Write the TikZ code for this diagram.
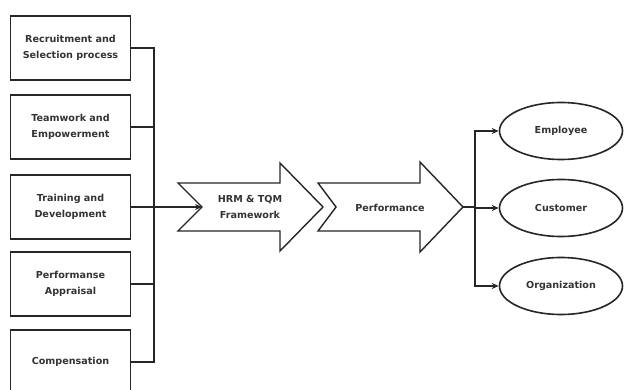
\documentclass[tikz,border=0pt]{standalone}
\usepackage{fontspec}
\setmainfont{DejaVu Sans}
\usetikzlibrary{shapes.geometric,arrows.meta}
\begin{document}
\begin{tikzpicture}[x=1pt,y=-1pt,
  txt/.style={font=\fontsize{9.6}{16.5}\selectfont\bfseries,text=black!80,align=center},
  factor/.style={txt,draw=black!85,line width=1.9pt,minimum width=120pt,minimum height=64pt,inner sep=0pt},
  bigarrow/.style={draw=black!85,line width=1.4pt,fill=white,line join=miter},
  outcome/.style={txt,ellipse,draw=black!85,line width=1.6pt,minimum width=123pt,minimum height=57pt,inner sep=0pt},
  link/.style={draw=black!85,line width=1.6pt},
  tipped/.style={link,-{Stealth[length=7pt,width=6pt]}}]
\useasboundingbox (0,0) rectangle (625,390);
% factor boxes
\node[factor] (b1) at (70.5,48)  {Recruitment and\\Selection process};
\node[factor] (b2) at (70.5,127) {Teamwork and\\Empowerment};
\node[factor] (b3) at (70.5,207) {Training and\\Development};
\node[factor] (b4) at (70.5,284) {Performanse\\Appraisal};
\node[factor] (b5) at (70.5,362) {Compensation};
% bus on the left
\coordinate (bx) at (154,0);
\draw[link] (b1.east) -| (bx |- b5) -- (b5.east);
\draw[link] (b2.east) -- (b2 -| bx);
\draw[link] (b4.east) -- (b4 -| bx);
% block arrows
\draw[bigarrow] (178,183) -- (280,183) -- (280,163) -- (323,207) -- (280,251) -- (280,231) -- (178,231) -- (202,207) -- cycle;
\coordinate (n1) at (202,207);
\node[txt] (hrm) at (250,207) {HRM \& TQM\\Framework};
\draw[bigarrow] (318,183) -- (420,183) -- (420,162) -- (463,207) -- (420,252) -- (420,231) -- (318,231) -- (336,207) -- cycle;
\coordinate (t2) at (463,207);
\node[txt] (perf) at (390,208) {Performance};
\draw[tipped] (b3.east) -- (n1);
% outcomes
\node[outcome] (e1) at (561,131) {Employee};
\node[outcome] (e2) at (561,208) {Customer};
\node[outcome] (e3) at (561,286) {Organization};
\coordinate (rx) at (475,207);
\draw[link] (t2) -- (rx);
\draw[tipped] (rx) |- (e1.west);
\draw[tipped] (rx) |- (e3.west);
\draw[tipped] (rx) -- (rx |- e2) -- (e2.west);
\end{tikzpicture}
\end{document}
